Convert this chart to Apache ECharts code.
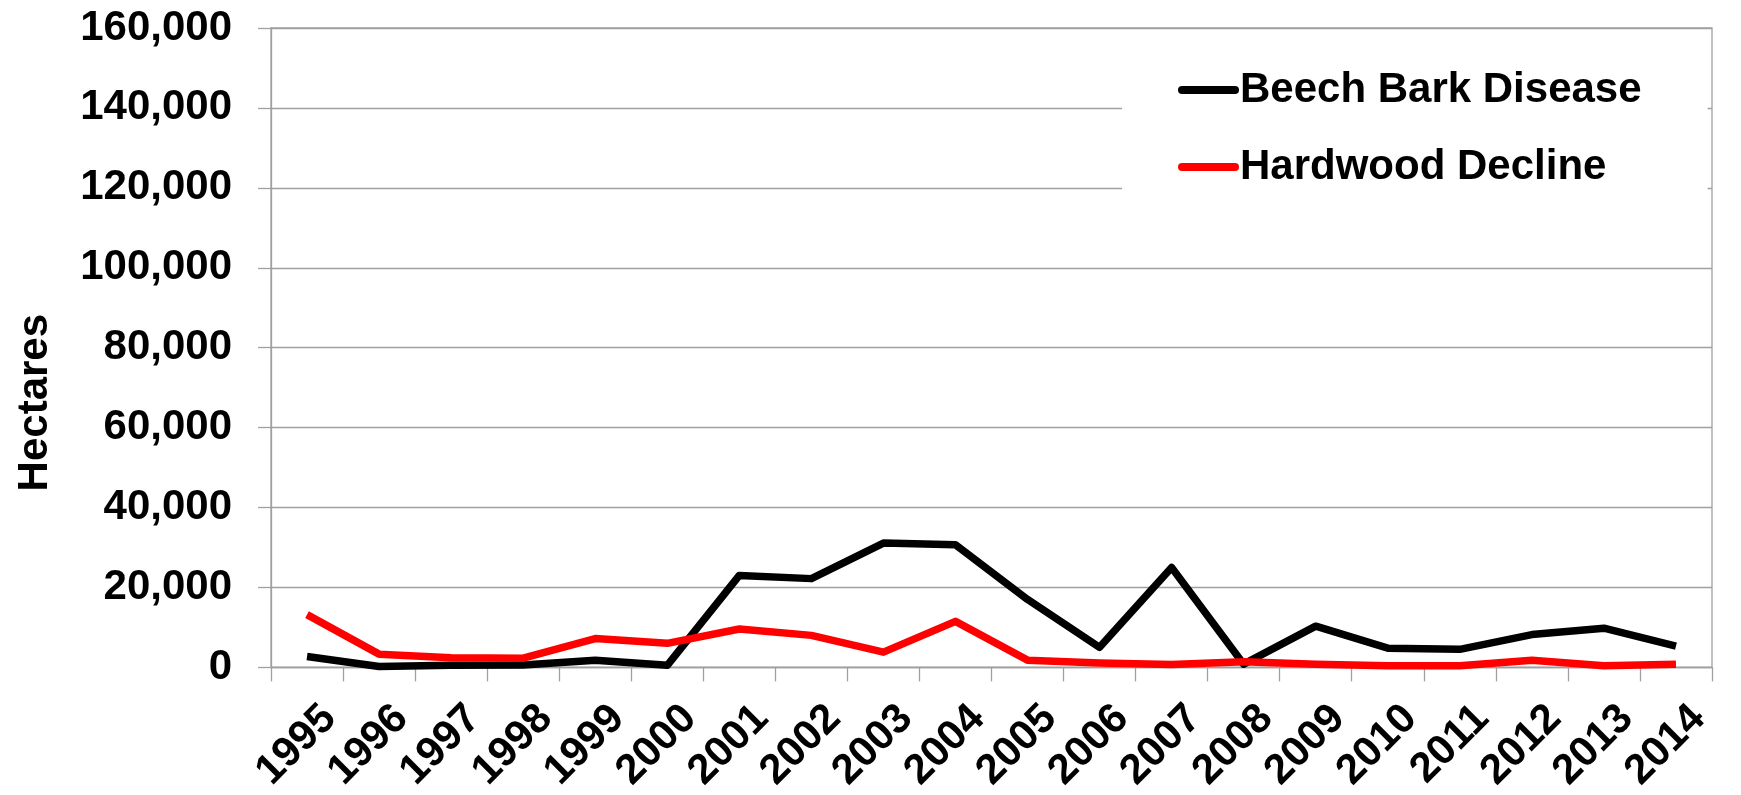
<!DOCTYPE html>
<html>
<head>
<meta charset="utf-8">
<script src="https://cdn.jsdelivr.net/npm/echarts@6/dist/echarts.min.js"></script>
<style>
  html, body { margin: 0; padding: 0; background: #ffffff; }
  #chart { width: 1741px; height: 795px; }
</style>
</head>
<body>
<div id="chart"></div>
<script>
// Area affected per year (hectares)
const years = ['1995','1996','1997','1998','1999','2000','2001','2002','2003','2004',
               '2005','2006','2007','2008','2009','2010','2011','2012','2013','2014'];
const beechBarkDisease = [2700, 200, 500, 600, 1800, 500, 23000, 22200, 31100, 30700,
                          17000, 5000, 25000, 800, 10300, 4800, 4500, 8200, 9800, 5300];
const hardwoodDecline = [13200, 3300, 2400, 2300, 7200, 6000, 9600, 8000, 3800, 11500,
                         1800, 1100, 700, 1400, 800, 400, 400, 1800, 400, 800];
const seriesNames = ['Beech Bark Disease', 'Hardwood Decline'];
const yAxisTitle = 'Hectares';
const yMin = 0, yMax = 160000, yStep = 20000;

const FONT = "'Liberation Sans', Arial, sans-serif";
const GRID_GREY = '#a0a0a0';

const chart = echarts.init(document.getElementById('chart'), null, { renderer: 'canvas' });

chart.setOption({
  animation: false,
  backgroundColor: '#ffffff',
  textStyle: { fontFamily: FONT },
  grid: {
    left: 271, right: 29, top: 28, bottom: 122,
    show: true, borderColor: GRID_GREY, borderWidth: 1.3, backgroundColor: 'transparent'
  },
  legend: {
    orient: 'vertical',
    left: 1122,
    top: 42,
    padding: [23, 66, 40, 56],
    backgroundColor: '#ffffff',
    itemWidth: 53,
    itemHeight: 8,
    itemGap: 27,
    lineStyle: { width: 8, cap: 'round' },
    textStyle: { fontFamily: FONT, fontSize: 42, fontWeight: 'bold', color: '#000', lineHeight: 50 },
    data: seriesNames
  },
  xAxis: {
    type: 'category',
    data: years,
    boundaryGap: true,
    axisLine: { show: true, lineStyle: { color: GRID_GREY, width: 1.3 } },
    axisTick: { show: true, length: 14, interval: 0, lineStyle: { color: GRID_GREY, width: 1.3 } },
    axisLabel: {
      interval: 0, rotate: 45, margin: 22,
      align: 'right', verticalAlign: 'top',
      padding: [11, 0, 0, 0],
      fontFamily: FONT, fontSize: 42, fontWeight: 'bold', color: '#000'
    },
    splitLine: { show: false }
  },
  yAxis: {
    type: 'value',
    min: yMin, max: yMax, interval: yStep,
    name: yAxisTitle,
    nameLocation: 'middle',
    nameRotate: 90,
    nameGap: 215,
    nameTextStyle: {
      fontFamily: FONT, fontSize: 42, fontWeight: 'bold', color: '#000',
      padding: [0, 110, 0, 0]
    },
    axisLine: { show: true, lineStyle: { color: GRID_GREY, width: 1.3 } },
    axisTick: { show: true, length: 13, lineStyle: { color: GRID_GREY, width: 1.3 } },
    axisLabel: {
      margin: 39,
      fontFamily: FONT, fontSize: 42, fontWeight: 'bold', color: '#000',
      formatter: v => v.toLocaleString('en-US')
    },
    splitLine: { show: true, lineStyle: { color: GRID_GREY, width: 1.3 } }
  },
  series: [
    {
      name: seriesNames[0], type: 'line', data: beechBarkDisease,
      symbol: 'none', smooth: false,
      lineStyle: { color: '#000000', width: 7.5, join: 'round' },
      itemStyle: { color: '#000000' }
    },
    {
      name: seriesNames[1], type: 'line', data: hardwoodDecline,
      symbol: 'none', smooth: false,
      lineStyle: { color: '#ff0000', width: 7.5, join: 'round' },
      itemStyle: { color: '#ff0000' }
    }
  ]
});
</script>
</body>
</html>
